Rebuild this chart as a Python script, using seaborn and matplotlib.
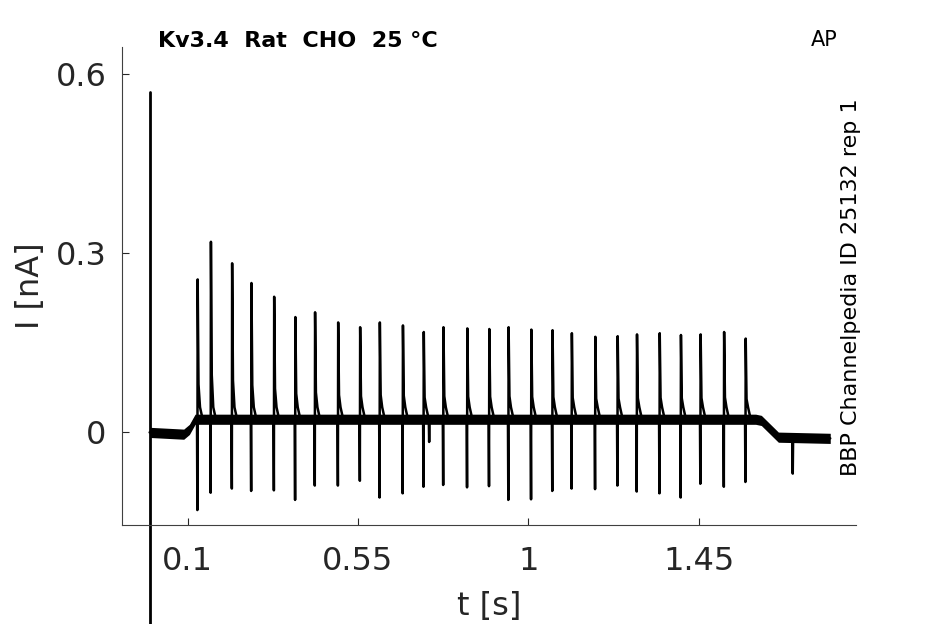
import numpy as np
import pandas as pd
import matplotlib
matplotlib.use('Agg')
import matplotlib.pyplot as plt
import seaborn as sns

# spike times [s] with their peak and trough currents [nA]
spike_t = [0.126, 0.161, 0.217, 0.268, 0.328, 0.384, 0.436, 0.497, 0.555,
           0.607, 0.668, 0.723, 0.775, 0.838, 0.896, 0.947, 1.007, 1.063,
           1.114, 1.176, 1.235, 1.286, 1.346, 1.402, 1.454, 1.516, 1.573]
spike_peak = [0.256, 0.319, 0.283, 0.250, 0.227, 0.193, 0.201, 0.184, 0.176,
              0.184, 0.179, 0.168, 0.176, 0.174, 0.173, 0.176, 0.172, 0.171,
              0.166, 0.160, 0.161, 0.164, 0.166, 0.163, 0.164, 0.168, 0.157]
spike_trough = [-0.130, -0.101, -0.094, -0.098, -0.097, -0.113, -0.089, -0.089,
                -0.081, -0.109, -0.102, -0.091, -0.088, -0.092, -0.090, -0.113,
                -0.112, -0.098, -0.094, -0.095, -0.089, -0.099, -0.102, -0.109,
                -0.086, -0.091, -0.083]

# holding current between spikes
base_t = [0.0, 0.09, 0.105, 0.12, 1.60, 1.615, 1.66, 1.797]
base_i = [0.0, -0.003, 0.005, 0.022, 0.022, 0.020, -0.008, -0.010]
plateau = 0.022

# small downward blips
blip_t = [0.738, 1.698]
blip_i = [-0.016, -0.069]

# artifact at t = 0
artifact_t = [0.0, 0.0]
artifact_i = [0.57, -0.35]

xticks = [0.1, 0.55, 1, 1.45]
xtick_labels = ['0.1', '0.55', '1', '1.45']
yticks = [0, 0.3, 0.6]
ytick_labels = ['0', '0.3', '0.6']

# assemble the trace
rows = list(zip(base_t, base_i))
for t, pk, tr in zip(spike_t, spike_peak, spike_trough):
    rows += [(t - 0.001, plateau), (t, tr), (t + 0.0008, pk),
             (t + 0.003, plateau + 0.25 * (pk - plateau)),
             (t + 0.007, plateau + 0.02), (t + 0.014, plateau)]
blip_base = np.interp(blip_t, base_t, base_i)
for t, b, lv in zip(blip_t, blip_i, blip_base):
    rows += [(t - 0.001, lv), (t, b), (t + 0.001, lv)]
trace = pd.DataFrame(rows, columns=['t', 'I']).sort_values('t', kind='stable')

sns.set_theme(style='ticks')
plt.rcParams['font.family'] = ['DejaVu Sans']

fig = plt.figure(figsize=(9.45, 6.24), dpi=100)
ax = fig.add_axes([122 / 945, 1 - 525 / 624, (856 - 122) / 945, (525 - 47) / 624])

base_arr = np.array(base_i)
ax.fill_between(base_t, base_arr - 0.0085, base_arr + 0.0085, color='black', lw=0)
sns.lineplot(data=trace, x='t', y='I', ax=ax, color='black', lw=1.8,
             estimator=None, sort=False)
ax.plot(artifact_t, artifact_i, color='black', lw=2, clip_on=False)

ax.set_xlim(-0.073, 1.865)
ax.set_ylim(-0.155, 0.645)
ax.set_xticks(xticks, xtick_labels)
ax.set_yticks(yticks, ytick_labels)
ax.tick_params(direction='in', length=5, width=0.8, labelsize=23,
               colors='.15')
ax.tick_params(axis='x', pad=15)
ax.tick_params(axis='y', pad=11)
ax.set_xlabel('t [s]', fontsize=23, labelpad=10)
ax.set_ylabel('I [nA]', fontsize=23, labelpad=7)
sns.despine(ax=ax)
for s in ['left', 'bottom']:
    ax.spines[s].set_linewidth(0.8)
    ax.spines[s].set_color('.25')

fig.text(158 / 945, 1 - 47 / 624, 'Kv3.4  Rat  CHO  25 °C', fontsize=16,
         fontweight='bold', ha='left', va='baseline', color='black')
fig.text(838 / 945, 1 - 46 / 624, 'AP', fontsize=15, ha='right',
         va='baseline', color='black')
fig.text(851 / 945, 1 - 287 / 624, 'BBP Channelpedia ID 25132 rep 1',
         fontsize=16, rotation=90, ha='center', va='center', color='black')

fig.savefig('out.png', dpi=100)
